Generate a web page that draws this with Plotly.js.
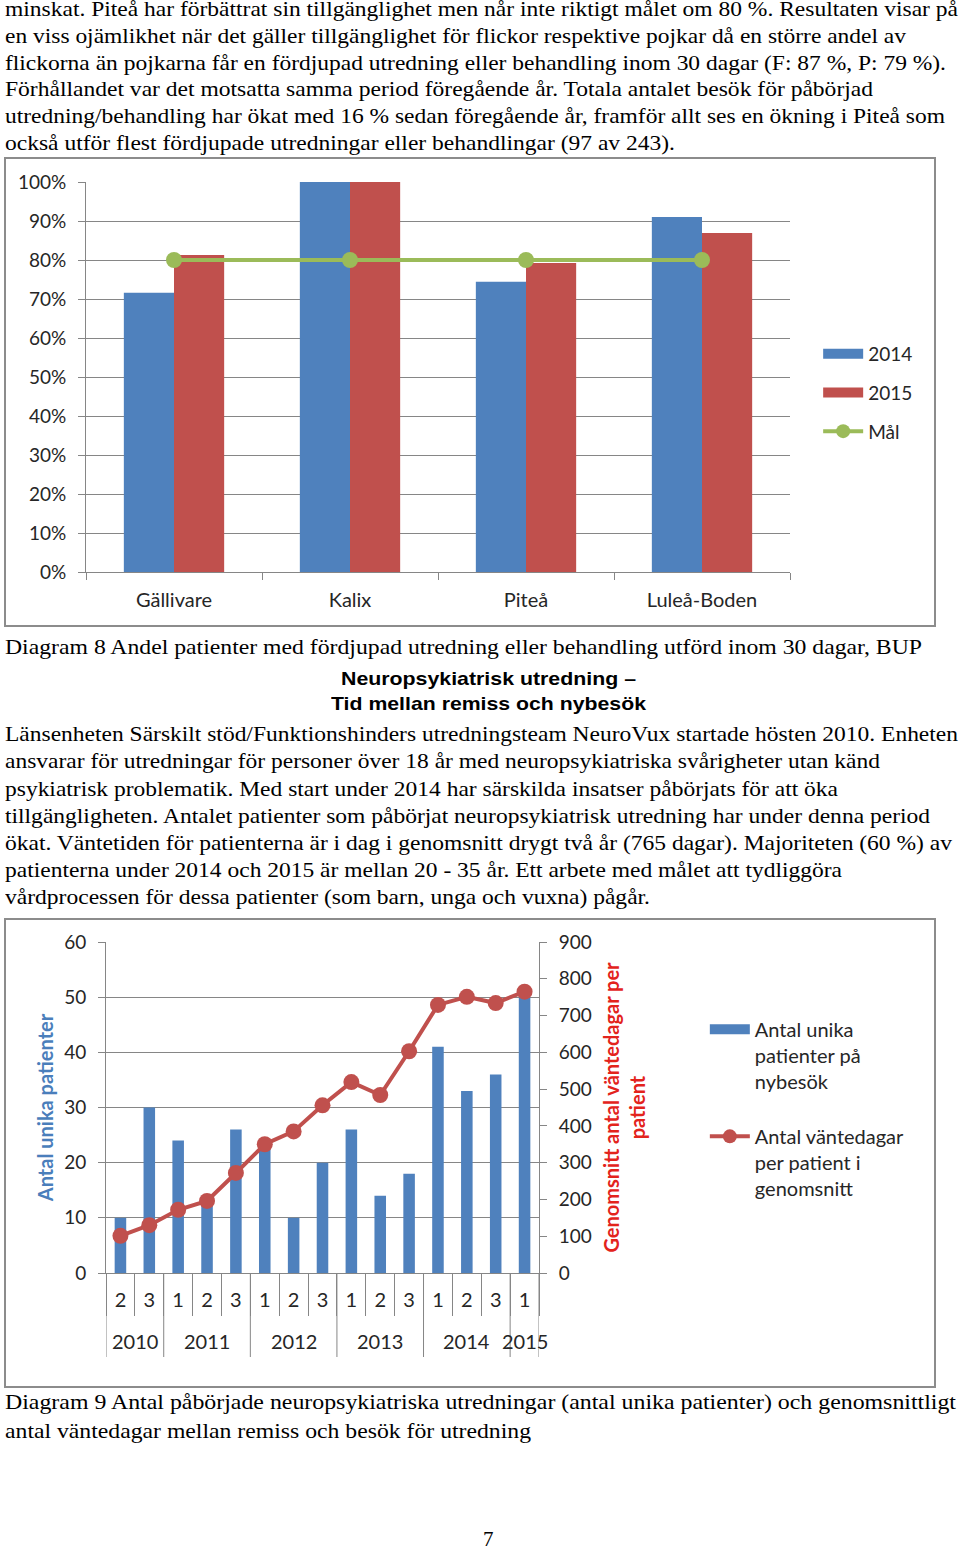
<!DOCTYPE html>
<html>
<head>
<meta charset="utf-8">
<script src="https://cdn.plot.ly/plotly-3.0.1.min.js"></script>
<style>
  html, body { margin:0; padding:0; background:#fff; }
  body { width:960px; height:1550px; position:relative; overflow:hidden; }
  .ln { position:absolute; white-space:nowrap; line-height:1; color:#000; }
  .frame { position:absolute; border:2px solid #8c8c8c; box-sizing:border-box; }
  .chart { position:absolute; }
</style>
</head>
<body>
<div class="frame" style="left:4px;top:157px;width:932px;height:470px;"></div>
<div id="c1" class="chart" style="left:5px;top:158px;width:930px;height:468px;"></div>
<div class="frame" style="left:4px;top:918px;width:932px;height:470px;"></div>
<div id="c2" class="chart" style="left:5px;top:919px;width:930px;height:468px;"></div>
<script>
// ---------- Chart 1 data ----------
const cats1 = ['Gällivare', 'Kalix', 'Piteå', 'Luleå-Boden'];
const share2014 = [0.716, 1.0, 0.744, 0.910];
const share2015 = [0.813, 1.0, 0.792, 0.869];
const goal = [0.8, 0.8, 0.8, 0.8];

// ---------- Chart 2 data ----------
const years = ['2010','2010','2011','2011','2011','2012','2012','2012','2013','2013','2013','2014','2014','2014','2015'];
const quarters = ['2','3','1','2','3','1','2','3','1','2','3','1','2','3','1'];
const patients = [10, 30, 24, 13, 26, 23, 10, 20, 26, 14, 18, 41, 33, 36, 50];
const waitDays = [101, 130, 172, 196, 272, 350, 385, 456, 519, 484, 603, 729, 751, 734, 765];

const BLUE = '#4f81bd', RED = '#c0504d', GREEN = '#9bbb59', GRID = '#868686', TXT = '#262626';
const FONT = 'Lato, "Open Sans", sans-serif';

// ---------- Text ----------
const serif = '"Liberation Serif", "Times New Roman", serif';
const sans = '"Liberation Sans", Arial, sans-serif';
function addLine(txt, x, base, w, opts) {
  opts = opts || {};
  const fs = opts.size || 21;
  const fam = opts.family || serif;
  const k = fam === serif ? 0.8375 : 0.8465;
  const d = document.createElement('div');
  d.className = 'ln';
  d.textContent = txt;
  d.style.fontFamily = fam;
  d.style.fontSize = fs + 'px';
  if (opts.bold) d.style.fontWeight = 'bold';
  d.style.top = (base - k * fs) + 'px';
  d.style.left = x + 'px';
  document.body.appendChild(d);
  const mw = d.getBoundingClientRect().width;
  if (w && mw > 0) {
    d.style.transformOrigin = 'left top';
    d.style.transform = 'scaleX(' + (w / mw) + ')';
  }
}
const p1 = [
  ['minskat. Piteå har förbättrat sin tillgänglighet men når inte riktigt målet om 80 %. Resultaten visar på', 953],
  ['en viss ojämlikhet när det gäller tillgänglighet för flickor respektive pojkar då en större andel av', 901],
  ['flickorna än pojkarna får en fördjupad utredning eller behandling inom 30 dagar (F: 87 %, P: 79 %).', 941],
  ['Förhållandet var det motsatta samma period föregående år. Totala antalet besök för påbörjad', 868],
  ['utredning/behandling har ökat med 16 % sedan föregående år, framför allt ses en ökning i Piteå som', 940],
  ['också utför flest fördjupade utredningar eller behandlingar (97 av 243).', 670]
];
p1.forEach((l, i) => addLine(l[0], 5, 16.7 + i * 26.7, l[1]));
addLine('Diagram 8 Andel patienter med fördjupad utredning eller behandling utförd inom 30 dagar, BUP', 5, 655, 917);
addLine('Neuropsykiatrisk utredning –', 341, 685, 295, {family: sans, bold: true, size: 19});
addLine('Tid mellan remiss och nybesök', 331, 710, 315, {family: sans, bold: true, size: 19});
const p2 = [
  ['Länsenheten Särskilt stöd/Funktionshinders utredningsteam NeuroVux startade hösten 2010. Enheten', 953],
  ['ansvarar för utredningar för personer över 18 år med neuropsykiatriska svårigheter utan känd', 875],
  ['psykiatrisk problematik. Med start under 2014 har särskilda insatser påbörjats för att öka', 833],
  ['tillgängligheten. Antalet patienter som påbörjat neuropsykiatrisk utredning har under denna period', 925],
  ['ökat. Väntetiden för patienterna är i dag i genomsnitt drygt två år (765 dagar). Majoriteten (60 %) av', 947],
  ['patienterna under 2014 och 2015 är mellan 20 - 35 år. Ett arbete med målet att tydliggöra', 837],
  ['vårdprocessen för dessa patienter (som barn, unga och vuxna) pågår.', 645]
];
p2.forEach((l, i) => addLine(l[0], 5, 741.7 + i * 27.2, l[1]));
addLine('Diagram 9 Antal påbörjade neuropsykiatriska utredningar (antal unika patienter) och genomsnittligt', 5, 1410, 951);
addLine('antal väntedagar mellan remiss och besök för utredning', 5, 1438.3, 526);
addLine('7', 483, 1546.7, 0);

// ---------- Chart 1 ----------
const axBase = {linecolor: GRID, linewidth: 1, tickcolor: GRID, ticklen: 7, ticks: 'outside', zeroline: false};
Plotly.newPlot('c1', [
  {type: 'bar', name: '2014', x: cats1, y: share2014, marker: {color: BLUE}, showlegend: false},
  {type: 'bar', name: '2015', x: cats1, y: share2015, marker: {color: RED}, showlegend: false},
  {type: 'scatter', mode: 'lines+markers', name: 'Mål', x: cats1, y: goal, line: {color: GREEN, width: 4},
   marker: {color: GREEN, size: 16}, showlegend: false},
  {type: 'scatter', mode: 'lines', name: '2014', x: [null], y: [null], line: {color: BLUE, width: 14}, legendgroup: 'a'},
  {type: 'scatter', mode: 'lines', name: '2015', x: [null], y: [null], line: {color: RED, width: 14}, legendgroup: 'b'},
  {type: 'scatter', mode: 'lines+markers', name: 'Mål', x: [null], y: [null], line: {color: GREEN, width: 4},
   marker: {color: GREEN, size: 14}, legendgroup: 'c'}
], {
  width: 930, height: 468,
  margin: {l: 81, r: 145, t: 24, b: 54},
  paper_bgcolor: 'rgba(0,0,0,0)', plot_bgcolor: 'white',
  font: {family: FONT, size: 18, color: TXT},
  barmode: 'group', bargap: 0.43, bargroupgap: 0,
  xaxis: Object.assign({}, axBase, {type: 'category', range: [-0.5, 3.5], showline: true, tickson: 'boundaries',
    showgrid: false, ticklabelstandoff: 10, tickfont: {size: 20}, fixedrange: true}),
  yaxis: Object.assign({}, axBase, {range: [0, 1], dtick: 0.1, tickformat: '.0%', showgrid: true, gridcolor: GRID,
    showline: true, ticklabelstandoff: 8, tickfont: {size: 19}, fixedrange: true}),
  legend: {x: 1.04, xanchor: 'left', y: 0.608, yanchor: 'top', traceorder: 'grouped', tracegroupgap: 11,
    itemwidth: 40, font: {family: FONT, size: 19, color: TXT}, bgcolor: 'rgba(0,0,0,0)'},
  showlegend: true
}, {staticPlot: true});

// ---------- Chart 2 ----------
// category keys (year + quarter) and year groups derived from the data arrays
const xKeys = years.map((y, i) => y + '-' + quarters[i]);
const groups = [];
years.forEach((y, i) => {
  const g = groups[groups.length - 1];
  if (!g || g.year !== y) groups.push({year: y, first: i, last: i});
  else g.last = i;
});
const yearLabelY = -0.2054, dividerY = -0.2538;
const annotations = groups.map(g => ({
  xref: 'x', x: (g.first + g.last) / 2, yref: 'paper', y: yearLabelY, yanchor: 'middle',
  text: g.year, showarrow: false, font: {family: FONT, size: 20, color: TXT}
}));
const bounds = groups.map(g => g.first - 0.5).concat([groups[groups.length - 1].last + 0.5]);
const shapes = bounds.map(b => ({
  type: 'line', xref: 'x', x0: b, x1: b, yref: 'paper', y0: 0, y1: dividerY,
  line: {color: GRID, width: 1}, layer: 'below'
}));

const titleFont = {family: FONT, size: 20, weight: 'bold'};
Plotly.newPlot('c2', [
  {type: 'bar', name: 'Antal unika<br>patienter på<br>nybesök', x: xKeys, y: patients,
   marker: {color: BLUE}, showlegend: false},
  {type: 'scatter', mode: 'lines+markers', name: 'Antal väntedagar<br>per patient i<br>genomsnitt',
   x: xKeys, y: waitDays, yaxis: 'y2', line: {color: RED, width: 4},
   marker: {color: RED, size: 16}, showlegend: false},
  {type: 'scatter', mode: 'lines', name: 'Antal unika<br>patienter på<br>nybesök', x: [null], y: [null],
   xaxis: 'x2', yaxis: 'y3', line: {color: BLUE, width: 14}, legendgroup: 'a'},
  {type: 'scatter', mode: 'lines+markers', name: 'Antal väntedagar<br>per patient i<br>genomsnitt', x: [null], y: [null],
   xaxis: 'x2', yaxis: 'y3', line: {color: RED, width: 4}, marker: {color: RED, size: 14}, legendgroup: 'b'}
], {
  width: 930, height: 468,
  margin: {l: 101, r: 396, t: 23, b: 114},
  paper_bgcolor: 'rgba(0,0,0,0)', plot_bgcolor: 'white',
  font: {family: FONT, size: 18, color: TXT},
  bargap: 0.6,
  xaxis: Object.assign({}, axBase, {type: 'category', categoryorder: 'array', categoryarray: xKeys,
    range: [-0.5, xKeys.length - 0.5], tickmode: 'array', tickvals: xKeys, ticktext: quarters,
    showline: true, tickson: 'boundaries', ticklen: 42, ticklabelstandoff: 9, showgrid: false,
    tickfont: {size: 20}, fixedrange: true}),
  yaxis: Object.assign({}, axBase, {range: [0, 60], dtick: 10, showgrid: true, gridcolor: GRID, showline: true,
    ticklabelstandoff: 8, tickfont: {size: 19},
    title: {text: 'Antal unika patienter', font: Object.assign({color: '#4a7ebb'}, titleFont), standoff: 5},
    fixedrange: true}),
  yaxis2: Object.assign({}, axBase, {overlaying: 'y', side: 'right', range: [0, 900], dtick: 100, showgrid: false,
    showline: true, ticklabelstandoff: 8, tickfont: {size: 19},
    title: {text: 'Genomsnitt antal väntedagar per<br>patient', font: Object.assign({color: '#e3231c'}, titleFont), standoff: 14},
    fixedrange: true}),
  xaxis2: {visible: false, overlaying: 'x', range: [0, 1]},
  yaxis3: {visible: false, overlaying: 'y', range: [0, 1]},
  annotations: annotations,
  shapes: shapes,
  legend: {x: 1.383, xanchor: 'left', y: 0.795, yanchor: 'top', traceorder: 'grouped', tracegroupgap: 26,
    itemwidth: 40, valign: 'top', font: {family: FONT, size: 20, color: TXT}, bgcolor: 'rgba(0,0,0,0)'},
  showlegend: true
}, {staticPlot: true});
</script>
</body>
</html>
